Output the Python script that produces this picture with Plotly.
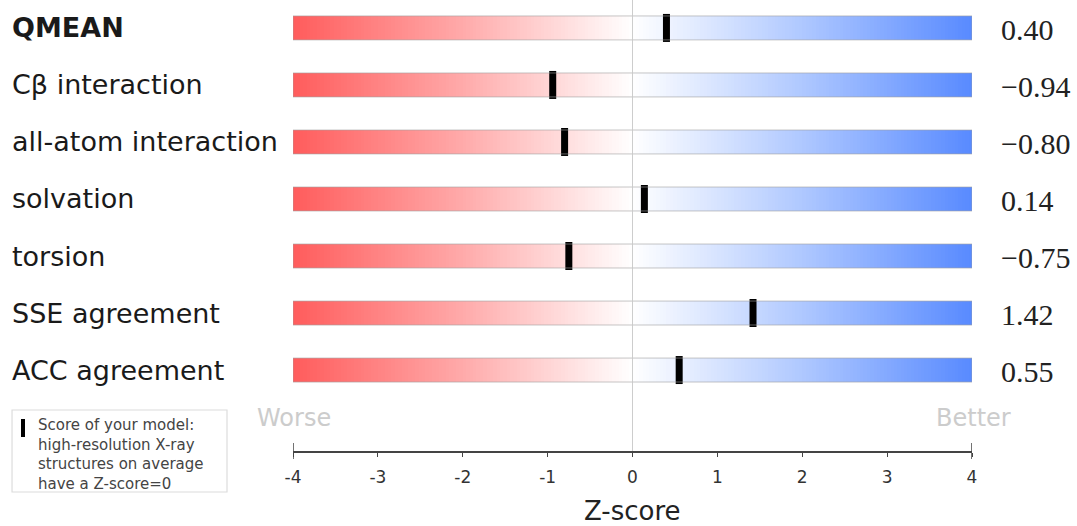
import numpy as np
import plotly.graph_objects as go

metrics = ["QMEAN", "Cβ interaction", "all-atom interaction", "solvation",
           "torsion", "SSE agreement", "ACC agreement"]
scores = [0.40, -0.94, -0.80, 0.14, -0.75, 1.42, 0.55]
score_labels = ["0.40", "\u22120.94", "\u22120.80", "0.14", "\u22120.75", "1.42", "0.55"]
x_ticks = [-4, -3, -2, -1, 0, 1, 2, 3, 4]
x_min, x_max = -4, 4

half_h = 0.21
colorscale = [[0.0, "rgb(255,92,92)"], [0.25, "rgb(255,170,170)"], [0.5, "rgb(255,255,255)"],
              [0.75, "rgb(175,200,255)"], [1.0, "rgb(88,138,255)"]]

edges = np.linspace(x_min, x_max, 201)
mids = (edges[:-1] + edges[1:]) / 2

fig = go.Figure()
shapes = []
annotations = []
for i, (name, s, lab) in enumerate(zip(metrics, scores, score_labels)):
    fig.add_trace(go.Heatmap(
        x=edges, y=[i - half_h, i + half_h], z=[mids],
        zmin=x_min, zmax=x_max, colorscale=colorscale,
        showscale=False, hoverinfo="skip"))
    shapes.append(dict(type="rect", xref="x", yref="y", x0=x_min, x1=x_max,
                       y0=i - half_h, y1=i + half_h,
                       line=dict(color="rgba(160,160,160,0.6)", width=1),
                       fillcolor="rgba(0,0,0,0)", layer="above"))
    annotations.append(dict(xref="paper", yref="y", x=-0.4168, y=i,
                            text=("<b>%s</b>" % name) if i == 0 else name,
                            xanchor="left", yanchor="middle", showarrow=False,
                            font=dict(family="DejaVu Sans", size=27, color="#1a1a1a")))
    annotations.append(dict(xref="paper", yref="y", x=1.040, y=i + 0.02, text=lab,
                            xanchor="left", yanchor="middle", showarrow=False,
                            font=dict(family="Liberation Serif", size=30, color="#222")))

# zero line
shapes.append(dict(type="line", xref="x", yref="paper", x0=0, x1=0, y0=0, y1=1,
                   line=dict(color="rgba(200,200,200,0.9)", width=1), layer="above"))

fig.add_trace(go.Scatter(
    x=scores, y=list(range(len(metrics))), mode="markers",
    marker=dict(symbol="line-ns", size=20, color="black",
                line=dict(color="black", width=7)),
    hoverinfo="skip", showlegend=False))

# end ticks
for xv in (x_min, x_max):
    shapes.append(dict(type="line", xref="x", yref="paper", x0=xv, x1=xv,
                       y0=-0.018, y1=0.018, line=dict(color="#444", width=1.5)))

# legend box
shapes.append(dict(type="rect", xref="paper", yref="paper", x0=-0.4138, x1=-0.0972,
                   y0=-0.0909, y1=0.0909, line=dict(color="#dcdcdc", width=1.2),
                   fillcolor="white"))
shapes.append(dict(type="rect", xref="paper", yref="paper", x0=-0.4006, x1=-0.3947,
                   y0=0.0310, y1=0.0710, line=dict(width=0), fillcolor="black"))
annotations.append(dict(xref="paper", yref="paper", x=-0.3785, y=0.082,
                        text="Score of your model:<br>high-resolution X-ray<br>structures on average<br>have a Z-score=0",
                        xanchor="left", yanchor="top", align="left", showarrow=False,
                        font=dict(family="DejaVu Sans", size=15, color="#444")))

annotations.append(dict(xref="paper", yref="paper", x=-0.056, y=0.073, text="Worse",
                        xanchor="left", yanchor="middle", showarrow=False,
                        font=dict(family="DejaVu Sans", size=24, color="#cccccc")))
annotations.append(dict(xref="paper", yref="paper", x=1.060, y=0.073, text="Better",
                        xanchor="right", yanchor="middle", showarrow=False,
                        font=dict(family="DejaVu Sans", size=24, color="#cccccc")))
annotations.append(dict(xref="x", yref="paper", x=0, y=-0.133, text="Z-score",
                        xanchor="center", yanchor="middle", showarrow=False,
                        font=dict(family="DejaVu Sans", size=26, color="#222")))

fig.update_layout(
    width=1077, height=526,
    margin=dict(l=293, r=105, t=0, b=75),
    paper_bgcolor="white", plot_bgcolor="white",
    showlegend=False,
    shapes=shapes, annotations=annotations,
    xaxis=dict(range=[x_min, x_max], tickvals=x_ticks,
               ticktext=[str(t) for t in x_ticks],
               showgrid=False, zeroline=False, showline=True,
               linecolor="#444", linewidth=1.5, ticks="outside", ticklen=4,
               tickcolor="#444", tickwidth=1, ticklabelstandoff=6,
               tickfont=dict(family="DejaVu Sans", size=17, color="#333")),
    yaxis=dict(range=[7.42, -0.49], showticklabels=False, showgrid=False,
               zeroline=False, showline=False),
)

fig.write_html("out.html", config={"displayModeBar": False},
               post_script="document.body.style.margin='0';document.body.style.overflow='hidden';")
